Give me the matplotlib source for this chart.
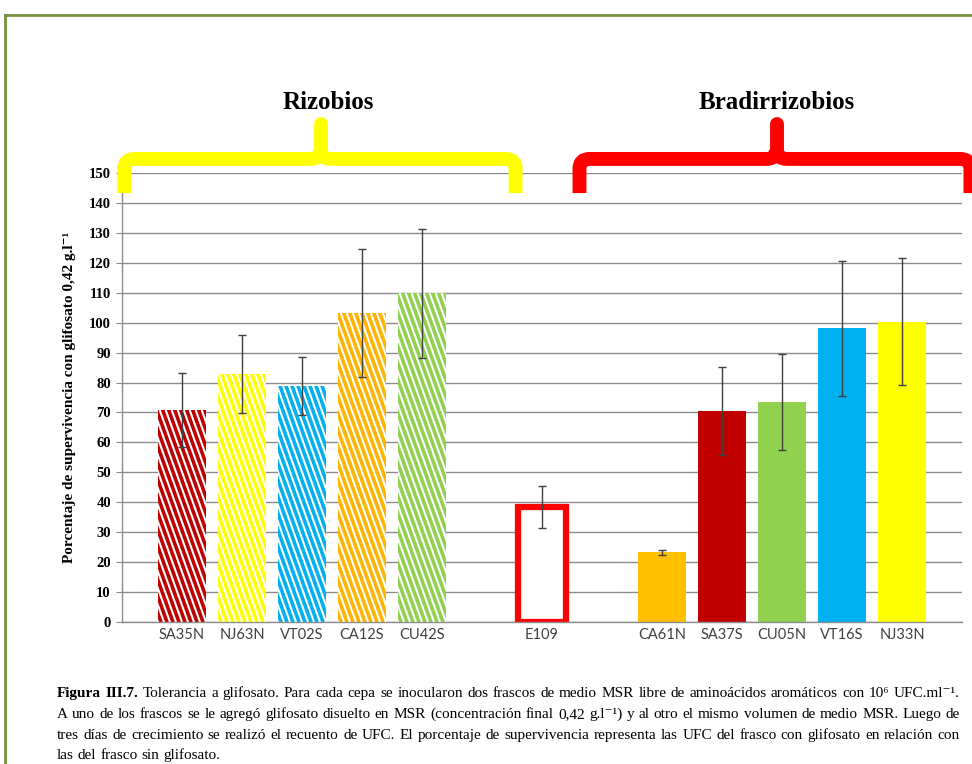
import numpy as np
import matplotlib
matplotlib.use("Agg")
import matplotlib.pyplot as plt
from matplotlib.path import Path
from matplotlib.patches import PathPatch
from matplotlib.lines import Line2D
from matplotlib.collections import LineCollection
from matplotlib.transforms import IdentityTransform

# ---- data -------------------------------------------------------------
strains = ["SA35N", "NJ63N", "VT02S", "CA12S", "CU42S", "",
           "E109", "",
           "CA61N", "SA37S", "CU05N", "VT16S", "NJ33N"]
survival = [70.8, 82.8, 78.9, 103.2, 109.8, None,
            38.5, None,
            23.3, 70.6, 73.4, 98.1, 100.3]
survival_err = [12.5, 13.0, 9.7, 21.3, 21.5, None,
                7.1, None,
                0.9, 14.7, 16.0, 22.6, 21.2]
bar_colors = ["#C00000", "#FFFF00", "#00B0F0", "#FFB400", "#92D050", None,
              "#FFFFFF", None,
              "#FFC000", "#C00000", "#92D050", "#00B0F0", "#FFFF00"]
striped = [True, True, True, True, True, False,
           False, False,
           False, False, False, False, False]
groups = ["Rizobios", "Bradirrizobios"]
y_ticks = list(range(0, 151, 10))

caption = [
    [("Figura III.7.", "bold"),
     ("Tolerancia a glifosato. Para cada cepa se inocularon dos frascos de medio MSR "
      "libre de aminoácidos aromáticos con 10⁶  UFC.ml⁻¹.", "normal")],
    [("A uno de los frascos se le agregó glifosato disuelto en MSR (concentración final  "
      "0,42 g.l⁻¹) y al otro el mismo volumen de medio MSR. Luego de", "normal")],
    [("tres días de crecimiento se realizó el recuento de UFC. El porcentaje de "
      "supervivencia representa las UFC del frasco con glifosato en relación con", "normal")],
    [("las del frasco sin glifosato.", "normal")],
]

# ---- figure -----------------------------------------------------------
W, H = 972, 764
SERIF = ["Liberation Serif", "DejaVu Serif"]
fig = plt.figure(figsize=(W / 100, H / 100), dpi=100)
fig.patch.set_facecolor("white")

# page frame
frame_col = "#76923C"
fig.add_artist(Line2D([4.5 / W, 4.5 / W], [0, 1 - 14.5 / H], transform=fig.transFigure,
                      color=frame_col, lw=2.0, solid_capstyle="projecting"))
fig.add_artist(Line2D([4.5 / W, 1], [1 - 14.5 / H, 1 - 14.5 / H], transform=fig.transFigure,
                      color=frame_col, lw=2.0, solid_capstyle="projecting"))

ax = fig.add_axes([122 / W, 1 - 622 / H, 840 / W, 449 / H])
ax.set_xlim(-1, 13)
ax.set_ylim(0, 150)

idx = [i for i, s in enumerate(strains) if s]
xs = np.array(idx, dtype=float)
vals = np.array([survival[i] for i in idx])
errs = np.array([survival_err[i] for i in idx])

bars = []
for i in idx:
    if strains[i] == "E109":
        b = ax.bar(i, survival[i], width=0.8, facecolor="white", edgecolor="#FF0000",
                   linewidth=4.5, joinstyle="miter", zorder=2)
    else:
        b = ax.bar(i, survival[i], width=0.8, color=bar_colors[i], linewidth=0, zorder=2)
    bars.append((i, b.patches[0]))

ax.errorbar(xs, vals, yerr=errs, fmt="none", ecolor="#404040", elinewidth=1.0,
            capsize=3, capthick=1.0, zorder=4)

ax.set_xlim(-1, 13)
ax.set_ylim(0, 150)
ax.set_yticks(y_ticks)
ax.set_xticks(xs)
ax.set_xticklabels([strains[i] for i in idx])
ax.yaxis.grid(True, color="#8C8C8C", lw=1.0)
ax.set_axisbelow(True)
for side in ("top", "right"):
    ax.spines[side].set_visible(False)
for side in ("left", "bottom"):
    ax.spines[side].set_color("#8C8C8C")
    ax.spines[side].set_linewidth(1.0)
ax.tick_params(axis="y", length=4, color="#8C8C8C", pad=4, labelsize=10.5)
ax.tick_params(axis="x", length=0, pad=4, labelsize=10.5, labelcolor="#404040")
for lbl in ax.get_yticklabels():
    lbl.set_fontfamily(SERIF)
    lbl.set_fontweight("bold")
for lbl in ax.get_xticklabels():
    lbl.set_fontfamily(["Lato", "DejaVu Sans"])

# white diagonal stripes on the rhizobia bars
for i, patch in bars:
    if not striped[i]:
        continue
    bb = patch.get_window_extent()
    h = bb.height
    slant = 0.36
    period = 6.0
    segs = []
    x = bb.x0 - slant * h - period
    while x < bb.x1 + period:
        segs.append([(x, bb.y1), (x + slant * h, bb.y0)])
        x += period
    lc = LineCollection(segs, colors="white", linewidths=1.5,
                        transform=IdentityTransform(), zorder=3)
    ax.add_collection(lc, autolim=False)
    lc.set_clip_path(patch)

ax.set_xlim(-1, 13)
ax.set_ylim(0, 150)


# group braces above the plot
def brace(xl, xr, xm, color):
    y_leg, y_bar, y_tip = 143.3, 154.7, 166.5
    rx, ry = 0.17, 3.2
    verts = [(xl, y_leg), (xl, y_bar - ry), (xl, y_bar), (xl + rx, y_bar),
             (xm - rx, y_bar), (xm, y_bar), (xm, y_bar + ry),
             (xr, y_leg), (xr, y_bar - ry), (xr, y_bar), (xr - rx, y_bar),
             (xm + rx, y_bar), (xm, y_bar), (xm, y_bar + ry)]
    codes = [Path.MOVETO, Path.LINETO, Path.CURVE3, Path.CURVE3,
             Path.LINETO, Path.CURVE3, Path.CURVE3,
             Path.MOVETO, Path.LINETO, Path.CURVE3, Path.CURVE3,
             Path.LINETO, Path.CURVE3, Path.CURVE3]
    pp = PathPatch(Path(verts, codes), fill=False, edgecolor=color, lw=10,
                   capstyle="butt", joinstyle="round", clip_on=False, zorder=5)
    ax.add_patch(pp)
    ax.add_line(Line2D([xm, xm], [y_bar + ry - 0.5, y_tip], color=color, lw=10,
                       solid_capstyle="round", clip_on=False, zorder=5))


brace(-0.96, 5.56, 2.31, "#FFFF00")
brace(6.625, 13.14, 9.91, "#FF0000")
ax.text(2.43, 173.4, groups[0], ha="center", va="center", fontsize=18,
        fontweight="bold", family=SERIF, color="black")
ax.text(9.91, 173.4, groups[1], ha="center", va="center", fontsize=18,
        fontweight="bold", family=SERIF, color="black")

fig.text(70 / W, 1 - 397 / H, "Porcentaje de supervivencia con glifosato 0,42 g.l⁻¹",
         rotation=90, ha="center", va="center", fontsize=11, fontweight="bold",
         family=SERIF)

# justified caption
renderer = fig.canvas.get_renderer()
cap_x0, cap_x1 = 57, 960
baselines = [697, 718, 739, 759]
CAP_SIZE = 11
probe = fig.text(0, 0, "a a", fontsize=CAP_SIZE, family=SERIF)
probe2 = fig.text(0, 0, "aa", fontsize=CAP_SIZE, family=SERIF)
space_w = probe.get_window_extent(renderer).width - probe2.get_window_extent(renderer).width
probe.remove()
probe2.remove()
for li, line in enumerate(caption):
    words = []
    for text, weight in line:
        for w in text.split():
            words.append((w, weight))
    objs = []
    for w, weight in words:
        t = fig.text(0, 1 - baselines[li] / H, w, fontsize=CAP_SIZE, family=SERIF,
                     fontweight=weight, va="baseline", ha="left")
        objs.append(t)
    widths = [t.get_window_extent(renderer).width for t in objs]
    if li < len(caption) - 1 and len(objs) > 1:
        gap = (cap_x1 - cap_x0 - sum(widths)) / (len(objs) - 1)
    else:
        gap = space_w
    x = cap_x0
    for t, wd in zip(objs, widths):
        t.set_x(x / W)
        x += wd + gap

fig.savefig("out.png", dpi=100)
